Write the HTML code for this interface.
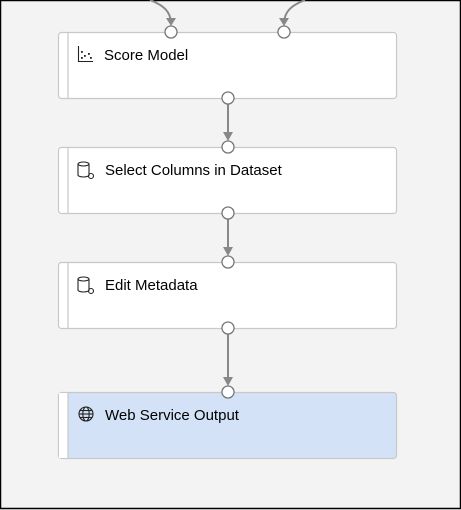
<!DOCTYPE html>
<html><head><style>
html,body{margin:0;padding:0;width:461px;height:510px;overflow:hidden;background:#f3f3f3}
svg{display:block}
text{font-family:"Segoe UI","Liberation Sans",sans-serif;font-size:15px;fill:#000}
</style></head><body>
<svg width="461" height="510" viewBox="0 0 461 510" xmlns="http://www.w3.org/2000/svg">
<rect x="0" y="0" width="461" height="510" fill="#f3f3f3"/>
<rect x="0.5" y="0.5" width="460" height="508" fill="none" stroke="#000" stroke-width="1.5"/>
<path d="M150 0 C165 6 170 12 171 22" fill="none" stroke="#888" stroke-width="2"/>
<polygon points="166,18 176,18 171,26" fill="#888"/>
<path d="M305 0 C290 6 285 12 284 22" fill="none" stroke="#888" stroke-width="2"/>
<polygon points="279,18 289,18 284,26" fill="#888"/>
<g stroke="#c8c8c8" stroke-width="1.2">
<rect x="58.5" y="32.5" width="338" height="66" rx="3" fill="#fff"/>
<rect x="58.5" y="147.5" width="338" height="66" rx="3" fill="#fff"/>
<rect x="58.5" y="262.5" width="338" height="66" rx="3" fill="#fff"/>
<rect x="58.5" y="392.5" width="338" height="66" rx="3" fill="#d3e2f7"/>
<rect x="59" y="393" width="9" height="65" fill="#fff" stroke="none"/>
<line x1="68" y1="33" x2="68" y2="98"/>
<line x1="68" y1="148" x2="68" y2="213"/>
<line x1="68" y1="263" x2="68" y2="328"/>
<line x1="68" y1="393" x2="68" y2="458"/>
</g>
<g stroke="#888" stroke-width="2">
<line x1="228" y1="104" x2="228" y2="134"/>
<line x1="228" y1="219" x2="228" y2="249"/>
<line x1="228" y1="334" x2="228" y2="379"/>
</g>
<g fill="#888">
<polygon points="223,132 233,132 228,141"/>
<polygon points="223,247 233,247 228,256"/>
<polygon points="223,377 233,377 228,386"/>
</g>
<g fill="#fff" stroke="#777" stroke-width="1.3">
<circle cx="171" cy="32" r="6"/><circle cx="284" cy="32" r="6"/>
<circle cx="228" cy="98" r="6"/>
<circle cx="228" cy="147" r="6"/><circle cx="228" cy="213" r="6"/>
<circle cx="228" cy="262" r="6"/><circle cx="228" cy="328" r="6"/>
<circle cx="228" cy="392" r="6"/>
</g>
<g fill="none" stroke="#222" stroke-width="1.1">
<path d="M78.5 46 V61.5 H93"/>
<path d="M78 164 v11 a5.5 2 0 0 0 11 0 v-11 a5.5 2 0 0 0 -11 0 a5.5 2 0 0 0 11 0"/>
<circle cx="91" cy="176" r="2.5"/>
<path d="M78 279 v11 a5.5 2 0 0 0 11 0 v-11 a5.5 2 0 0 0 -11 0 a5.5 2 0 0 0 11 0"/>
<circle cx="91" cy="291" r="2.5"/>
<circle cx="86" cy="414" r="7"/>
<ellipse cx="86" cy="414" rx="3.2" ry="7"/>
<line x1="79" y1="414" x2="93" y2="414"/>
<line x1="80" y1="410.5" x2="92" y2="410.5"/>
<line x1="80" y1="417.5" x2="92" y2="417.5"/>
</g>
<g fill="#222">
<rect x="81" y="51" width="1.8" height="1.8"/><rect x="84" y="55" width="1.8" height="1.8"/>
<rect x="81" y="57" width="1.8" height="1.8"/><rect x="88" y="53" width="1.8" height="1.8"/>
<rect x="90" y="57" width="1.8" height="1.8"/>
</g>
<text x="104" y="60">Score Model</text>
<text x="105" y="175">Select Columns in Dataset</text>
<text x="105" y="290">Edit Metadata</text>
<text x="105" y="420">Web Service Output</text>
</svg>
</body></html>
